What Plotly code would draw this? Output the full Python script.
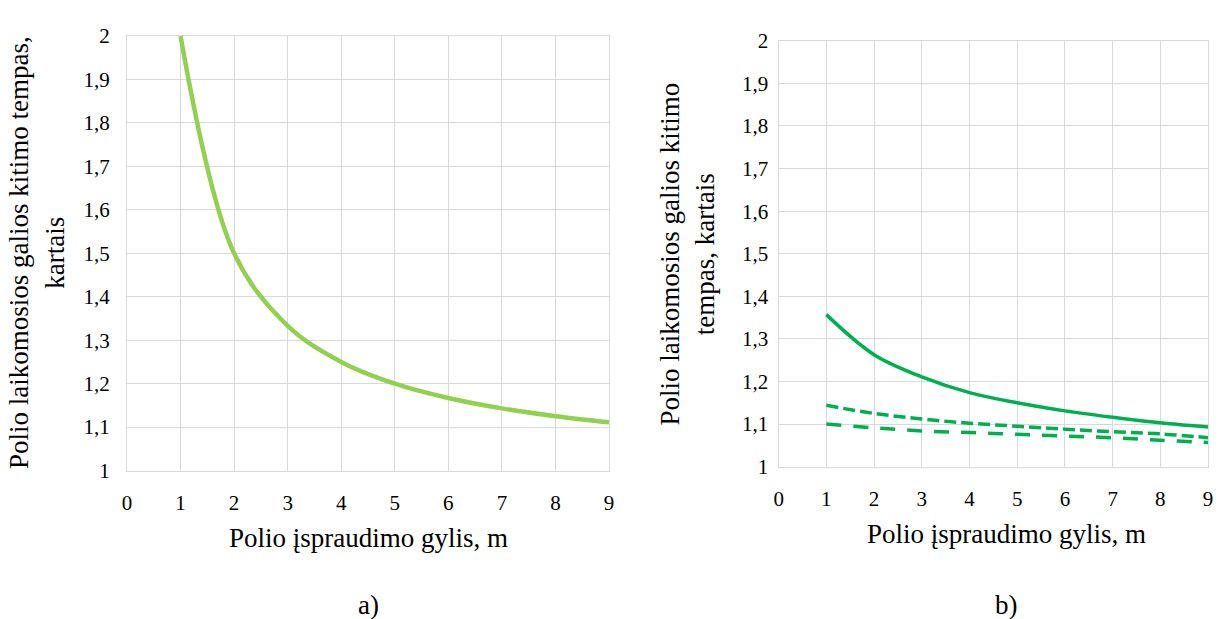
import plotly.graph_objects as go
from plotly.subplots import make_subplots

# Pile driving depth, m
depth = [1, 2, 3, 4, 5, 6, 7, 8, 9]

# a) bearing capacity change rate
rate_a = [2.0, 1.5, 1.333, 1.25, 1.2, 1.167, 1.143, 1.125, 1.111]

# b) three cases
rate_b_solid = [1.357, 1.263, 1.211, 1.174, 1.150, 1.131, 1.116, 1.103, 1.093]
rate_b_dash = [1.144, 1.125, 1.112, 1.102, 1.095, 1.088, 1.082, 1.077, 1.068]
rate_b_longdash = [1.100, 1.091, 1.084, 1.080, 1.076, 1.072, 1.068, 1.062, 1.057]

x_ticks = list(range(0, 10))
y_ticks = [1.0, 1.1, 1.2, 1.3, 1.4, 1.5, 1.6, 1.7, 1.8, 1.9, 2.0]
y_tick_text = ["1", "1,1", "1,2", "1,3", "1,4", "1,5", "1,6", "1,7", "1,8", "1,9", "2"]

FONT = "Liberation Serif"
GRID = "#D9D9D9"
W, H = 1224, 619
TICK_SIZE = 21
TITLE_SIZE = 27

fig = make_subplots(rows=1, cols=2)

fig.add_trace(go.Scatter(x=depth, y=rate_a, mode="lines",
                         line=dict(color="#92D050", width=4.5, shape="spline"),
                         showlegend=False), row=1, col=1)

fig.add_trace(go.Scatter(x=depth, y=rate_b_solid, mode="lines",
                         line=dict(color="#00B050", width=3.5, shape="spline"),
                         showlegend=False), row=1, col=2)
fig.add_trace(go.Scatter(x=depth, y=rate_b_dash, mode="lines",
                         line=dict(color="#00B050", width=3.5, shape="spline", dash="12px,5px"),
                         showlegend=False), row=1, col=2)
fig.add_trace(go.Scatter(x=depth, y=rate_b_longdash, mode="lines",
                         line=dict(color="#00B050", width=3.5, shape="spline", dash="15px,12px"),
                         showlegend=False), row=1, col=2)

# plot areas in pixels: (left, right, top, bottom, y-label standoff)
areas = [(123, 609, 25, 477, 12), (780, 1213, 30, 473, 5)]

axis_common = dict(showgrid=True, gridcolor=GRID, gridwidth=1.3,
                   showline=True, linecolor=GRID, linewidth=1.3, mirror=True,
                   zeroline=False, ticks="",
                   tickfont=dict(family=FONT, size=TICK_SIZE, color="#000000"))

for i, (l, r, t, b, gap) in enumerate(areas):
    n = "" if i == 0 else "2"
    fig.layout["xaxis" + n].update(
        domain=[l / W, r / W], range=[0, 9], tickvals=x_ticks,
        ticklabelstandoff=13, **axis_common)
    fig.layout["yaxis" + n].update(
        domain=[1 - b / H, 1 - t / H], range=[1, 2],
        tickvals=y_ticks, ticktext=y_tick_text,
        ticklabelstandoff=gap, **axis_common)

annotations = [
    dict(text="Polio įspraudimo gylis, m", x=366 / W, y=1 - 547 / H),
    dict(text="Polio įspraudimo gylis, m", x=1010 / W, y=1 - 543 / H),
    dict(text="a)", x=366 / W, y=1 - 617 / H),
    dict(text="b)", x=1010 / W, y=1 - 617 / H),
    dict(text="Polio laikomosios galios kitimo tempas,<br>kartais",
         x=32 / W, y=1 - 250 / H, textangle=-90),
    dict(text="Polio laikomosios galios kitimo<br>tempas, kartais",
         x=688 / W, y=1 - 252 / H, textangle=-90),
]
for a in annotations:
    fig.add_annotation(xref="paper", yref="paper", showarrow=False,
                       xanchor="center", yanchor="middle",
                       font=dict(family=FONT, size=TITLE_SIZE, color="#000000"), **a)

fig.update_layout(width=W, height=H, margin=dict(l=0, r=0, t=0, b=0),
                  font=dict(family=FONT, size=TICK_SIZE, color="#000000"),
                  paper_bgcolor="white", plot_bgcolor="white")

fig.write_html("out.html")
